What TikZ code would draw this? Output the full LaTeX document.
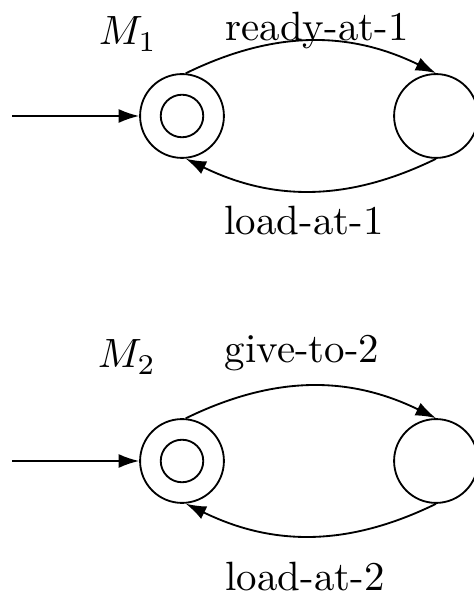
\documentclass[tikz,border=0pt]{standalone}
\usetikzlibrary{arrows.meta}
\tikzset{
  state/.style={draw, circle, minimum size=20.5pt, inner sep=0pt, line width=0.45pt},
  startstate/.style={state, path picture={\draw[line width=0.45pt] (path picture bounding box.center) circle (5.2pt);}},
  trans/.style={line width=0.45pt, -{Latex[length=5pt,width=3.4pt]}},
  lbl/.style={anchor=base, inner sep=0pt},
}
\begin{document}
\begin{tikzpicture}[x=0.2445pt,y=0.2445pt]
  \useasboundingbox (0,0) rectangle (474,596);
  % one machine: #1 name, #2 height of its states
  \def\drawmachine#1#2{
    \node[startstate] (#1a) at (182,#2) {};
    \node[state] (#1b) at (436,#2) {};
    \coordinate (#1in) at (12,#2);
    \draw[trans] (#1in) -- (#1a);
    \draw[trans] (#1a.85) to[out=26,in=154] (#1b.north);
    \draw[trans] (#1b.south) to[out=-154,in=-26] (#1a.-85);
  }
  % M1
  \drawmachine{mone}{480}
  \node[lbl] (monename) at (128,551) {$M_1$};
  \node[lbl] (moneup) at (317,555) {ready-at-1};
  \node[lbl] (monedown) at (304,361) {load-at-1};
  % M2
  \drawmachine{mtwo}{135}
  \node[lbl] (mtwoname) at (127,228) {$M_2$};
  \node[lbl] (mtwoup) at (302,233) {give-to-2};
  \node[lbl] (mtwodown) at (305,5) {load-at-2};
\end{tikzpicture}
\end{document}
